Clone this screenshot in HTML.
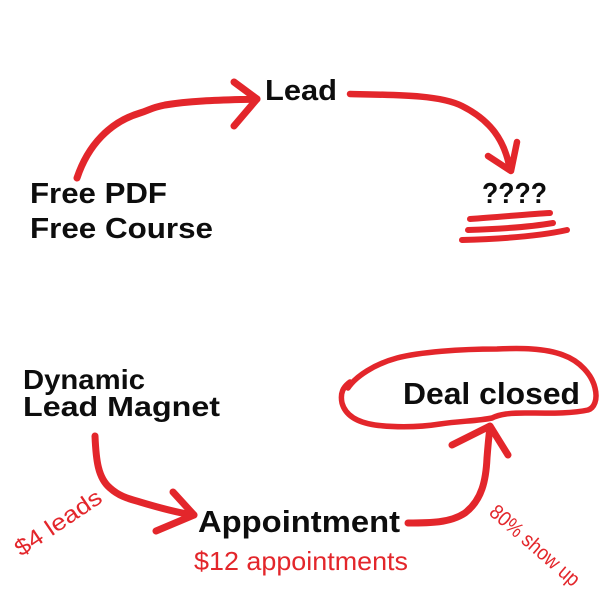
<!DOCTYPE html>
<html>
<head>
<meta charset="utf-8">
<style>
  html, body { margin: 0; padding: 0; background: #ffffff; }
  svg { display: block; }
  .b { font-family: "Liberation Sans", "DejaVu Sans", sans-serif; font-weight: bold; fill: #0d0d0d; }
  .h { font-family: "Liberation Sans", "DejaVu Sans", sans-serif; font-weight: normal; fill: #e3262b; }
  .r { fill: none; stroke: #e3262b; stroke-linecap: round; stroke-linejoin: round; }
</style>
</head>
<body>
<svg width="600" height="600" viewBox="0 0 600 600" xmlns="http://www.w3.org/2000/svg">
  <rect x="0" y="0" width="600" height="600" fill="#ffffff"/>

  <!-- Top section texts -->
  <text class="b" x="265" y="100" font-size="29" textLength="72" lengthAdjust="spacingAndGlyphs">Lead</text>
  <text class="b" x="30" y="203" font-size="29" textLength="137" lengthAdjust="spacingAndGlyphs">Free PDF</text>
  <text class="b" x="30" y="238" font-size="29" textLength="183" lengthAdjust="spacingAndGlyphs">Free Course</text>
  <text class="b" x="482" y="203" font-size="29" textLength="65" lengthAdjust="spacingAndGlyphs">????</text>

  <!-- Arrow: Free PDF -> Lead -->
  <path class="r" stroke-width="7" d="M77,178 C88,145 110,122 140,113 C150,110 150,108 165,105 C195,100 230,100 257,99"/>
  <path class="r" stroke-width="7" d="M234,82 L257,99 L234,126"/>

  <!-- Arrow: Lead -> ???? -->
  <path class="r" stroke-width="6.5" d="M350,94 C400,95 440,95 462,106 C490,120 505,140 510,170"/>
  <path class="r" stroke-width="6.5" d="M488,156 L511,171 L517,142"/>

  <!-- Underlines -->
  <path class="r" stroke-width="6" d="M470,219 C500,217 530,214 550,213"/>
  <path class="r" stroke-width="6" d="M468,230 C500,229 530,227 553,223"/>
  <path class="r" stroke-width="6" d="M462,240 C500,239 540,236 567,230"/>

  <!-- Bottom section texts -->
  <text class="b" x="23" y="389" font-size="28" textLength="122" lengthAdjust="spacingAndGlyphs">Dynamic</text>
  <text class="b" x="23" y="416" font-size="28" textLength="197" lengthAdjust="spacingAndGlyphs">Lead Magnet</text>
  <text class="b" x="403" y="404" font-size="31" textLength="177" lengthAdjust="spacingAndGlyphs">Deal closed</text>
  <text class="b" x="198" y="532" font-size="31" textLength="202" lengthAdjust="spacingAndGlyphs">Appointment</text>

  <text class="h" x="194" y="570" font-size="26" textLength="214" lengthAdjust="spacingAndGlyphs">$12 appointments</text>
  <text class="h" x="21" y="557" font-size="23" textLength="100" lengthAdjust="spacingAndGlyphs" transform="rotate(-34 21 557)">$4 leads</text>
  <text class="h" x="488" y="514" font-size="21" textLength="112" lengthAdjust="spacingAndGlyphs" transform="rotate(41 488 514)">80% show up</text>

  <!-- Oval around Deal closed -->
  <path class="r" stroke-width="5.5" d="M348,388 C356,376 375,364 397,358 C420,352 460,349 497,349 C520,348 545,348 563,355 C580,361 592,375 595,388 C598,400 594,408 588,410 C570,414 545,413 525,413 C510,413 500,414 492,418 C478,421 460,421 440,424 C415,428 390,427 375,425 C355,422 345,414 342,403 C340,393 343,387 350,382"/>

  <!-- Arrow: Dynamic Lead Magnet -> Appointment -->
  <path class="r" stroke-width="7" d="M95,436 C96,460 98,478 110,488 C120,497 130,499 140,502 C160,508 178,513 194,515"/>
  <path class="r" stroke-width="7" d="M173,492 L194,515 L156,531"/>

  <!-- Arrow: Appointment -> Deal closed -->
  <path class="r" stroke-width="7" d="M408,523 C430,523 450,523 465,513 C482,500 486,480 487,458 C488,445 489,435 490,427"/>
  <path class="r" stroke-width="7" d="M452,445 L490,426 L508,455"/>
</svg>
</body>
</html>
